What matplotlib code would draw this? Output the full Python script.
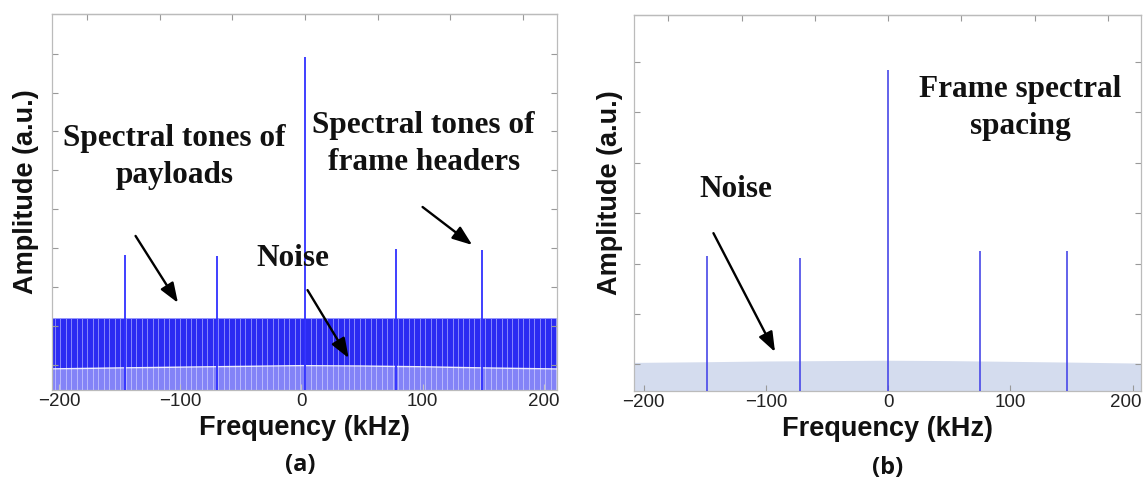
import matplotlib.pyplot as plt
import numpy as np
from matplotlib.ticker import FixedLocator, NullFormatter
from matplotlib.transforms import ScaledTranslation

# spectral tones (kHz) and their amplitudes (a.u.)
tones_a = [-146, -70, 3, 78, 149]
amps_a = [0.360, 0.357, 0.885, 0.374, 0.372]
tones_b = [-148, -72, 0, 75, 146]
amps_b = [0.359, 0.355, 0.854, 0.372, 0.372]

# payload comb in panel (a)
payload_spacing = 4.5
payload_level = 0.193
payload_freqs = np.arange(-206, 212, payload_spacing)

# noise floor
noise_freq = [-215, -150, -100, -50, 0, 50, 100, 150, 215]
noise_a = [0.056, 0.059, 0.061, 0.063, 0.065, 0.064, 0.062, 0.059, 0.056]
noise_b = [0.076, 0.078, 0.080, 0.081, 0.082, 0.081, 0.079, 0.077, 0.074]

xticks = [-200, -100, 0, 100, 200]
yticks_a = [0.895 - 0.1035 * k for k in range(9)]
yticks_b = [0.875 - 0.134 * k for k in range(7)]

serif = dict(family='Liberation Serif', weight='bold', color='#111111', fontsize=22.5)
sans = dict(family='Liberation Sans', weight='bold', color='#111111', fontsize=19.5)

fig = plt.figure(figsize=(11.43, 4.87), dpi=100)
ax1 = fig.add_axes([0.0455, 0.199, 0.4418, 0.772])
ax2 = fig.add_axes([0.5547, 0.197, 0.4436, 0.772])


def style(ax, xlim, yticks, top_center, label_x):
    ax.set_xlim(*xlim)
    ax.set_ylim(0, 1)
    ax.set_xticks(xticks)
    ax.set_xticklabels([str(t).replace('-', '\u2212') for t in xticks],
                       family='Liberation Sans', fontsize=13.5, color='#222222')
    ax.set_yticks(yticks)
    ax.set_yticklabels([])
    ax.tick_params(direction='in', length=4, color='#999999', width=0.8,
                   right=True, pad=2)
    top = ax.secondary_xaxis('top')
    top.xaxis.set_major_locator(FixedLocator([top_center + 60 * k for k in range(-3, 4)]))
    top.xaxis.set_major_formatter(NullFormatter())
    top.tick_params(direction='in', length=4, color='#999999', width=0.8)
    for sp in list(ax.spines.values()) + [top.spines['top']]:
        sp.set_color('#bbbbbb')
        sp.set_linewidth(0.9)
    ax.set_xlabel('Frequency (kHz)', labelpad=4, **sans)
    ax.set_ylabel('Amplitude (a.u.)', **sans)
    ax.yaxis.set_label_coords(label_x, 0.527)


arrow = dict(arrowstyle='-|>,head_length=1.2,head_width=0.45', color='black',
             lw=1.7, shrinkA=0, shrinkB=0)

# (a) payload tones, header tones and noise
ax1.bar(payload_freqs, payload_level, width=payload_spacing, color='#2b2bf2',
        edgecolor='#9a9aff', linewidth=0.45, zorder=1)
ax1.fill_between(noise_freq, 0, noise_a, color='white', alpha=0.42, lw=0, zorder=2)
ax1.plot(noise_freq, noise_a, color='white', lw=1.0, alpha=0.9, zorder=2)
ax1.vlines(tones_a, 0, amps_a, color='#3030ff', lw=1.3, zorder=3)
style(ax1, (-206, 211), yticks_a, 3, -0.026)

ax1.text(-105, 0.62, 'Spectral tones of\npayloads', ha='center', va='center',
         linespacing=1.35, **serif)
ax1.annotate('', xy=(-102, 0.232), xytext=(-137, 0.41), arrowprops=arrow)
ax1.text(-7, 0.351, 'Noise', ha='center', va='center', **serif)
ax1.annotate('', xy=(39, 0.085), xytext=(5, 0.266), arrowprops=arrow)
ax1.text(101, 0.655, 'Spectral tones of\nframe headers', ha='center', va='center',
         linespacing=1.35, **serif)
ax1.annotate('', xy=(141, 0.386), xytext=(100, 0.487), arrowprops=arrow)

# (b) frame tones on top of the noise floor
ax2.fill_between(noise_freq, 0, noise_b, color='#d4dcee', lw=0, zorder=1)
ax2.vlines(tones_b, 0, amps_b, color='#4848e8', lw=1.2, zorder=3)
style(ax2, (-208, 207), yticks_b, 0, -0.022)

ax2.text(-125, 0.535, 'Noise', ha='center', va='center', **serif)
ax2.annotate('', xy=(-92.6, 0.104), xytext=(-143, 0.42), arrowprops=arrow)
ax2.text(108, 0.752, 'Frame spectral\nspacing', ha='center', va='center',
         linespacing=1.35, **serif)

# the rightmost tick label of (b) sits at the figure edge
last = ax2.get_xticklabels()[-1]
last.set_transform(last.get_transform() + ScaledTranslation(-5 / 72, 0, fig.dpi_scale_trans))

fig.text(0.2625, 0.045, '(a)', ha='center', va='center', fontsize=17,
         family='Open Sans', weight='bold', color='#111111')
fig.text(0.777, 0.04, '(b)', ha='center', va='center', fontsize=17,
         family='Open Sans', weight='bold', color='#111111')

fig.savefig('out.png', dpi=100)
